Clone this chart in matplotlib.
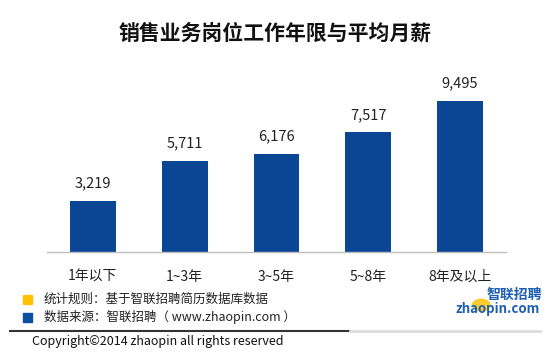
import matplotlib.pyplot as plt
from matplotlib.patches import Rectangle, Circle
from matplotlib.lines import Line2D

plt.rcParams["font.family"] = ["Noto Sans CJK SC", "DejaVu Sans"]

categories = ["1年以下", "1~3年", "3~5年", "5~8年", "8年及以上"]
salaries = [3219, 5711, 6176, 7517, 9495]

title = "销售业务岗位工作年限与平均月薪"
notes = ["统计规则：基于智联招聘简历数据库数据", "数据来源：智联招聘（ www.zhaopin.com ）"]
note_colors = ["#FFC000", "#0B4EA2"]
copyright_text = "Copyright©2014 zhaopin all rights reserved"

bar_color = "#0A4693"

fig = plt.figure(figsize=(5.5, 3.54), dpi=100)
ax = fig.add_axes([0.0855, 0.288, 0.8345, 0.45])

x = range(len(categories))
ax.bar(x, salaries, width=0.5, color=bar_color)
for i, v in zip(x, salaries):
    ax.text(i, v + 650, f"{v:,}", ha="center", va="bottom", fontsize=10.5, color="#222222")

ax.set_xlim(-0.5, len(categories) - 0.5)
ax.set_ylim(0, 10000)
ax.set_xticks(list(x))
ax.set_xticklabels(categories, fontsize=10, color="#222222")
ax.tick_params(axis="x", length=0, pad=13)
ax.set_yticks([])
for side in ["top", "right", "left"]:
    ax.spines[side].set_visible(False)
ax.spines["bottom"].set_color("#BFBFBF")
ax.spines["bottom"].set_linewidth(1)

fig.text(0.5, 0.907, title, ha="center", va="center", fontsize=15, fontweight="bold", color="#111111")

# footer notes
for k, (txt, col) in enumerate(zip(notes, note_colors)):
    yy = 1 - (299 + 18 * k) / 354
    fig.patches.append(Rectangle((23 / 550, yy - 4.5 / 354), 9 / 550, 9 / 354,
                                 transform=fig.transFigure, color=col))
    fig.text(44 / 550, yy, txt, ha="left", va="center", fontsize=9, color="#222222")

# separator line
fig.lines.append(Line2D([10 / 550, 350 / 550], [1 - 331 / 354] * 2, transform=fig.transFigure,
                        color="#333333", linewidth=1.5))
fig.lines.append(Line2D([350 / 550, 540 / 550], [1 - 331 / 354] * 2, transform=fig.transFigure,
                        color="#DDDDDD", linewidth=2))
fig.text(32 / 550, 1 - 342 / 354, copyright_text, ha="left", va="center", fontsize=9, color="#111111")

# logo
fig.patches.append(Circle((0.875, 1 - 305 / 354), 0.016, transform=fig.transFigure,
                          color="#FFC000", alpha=0.8))
fig.text(0.935, 1 - 295 / 354, "智联招聘", ha="center", va="center", fontsize=10,
         fontweight="bold", color="#1E5FB4", style="italic")
fig.text(0.905, 1 - 309 / 354, "zhaopin.com", ha="center", va="center", fontsize=9.5,
         fontweight="bold", color="#1E5FB4", style="italic")

fig.savefig("out.png", dpi=100)
